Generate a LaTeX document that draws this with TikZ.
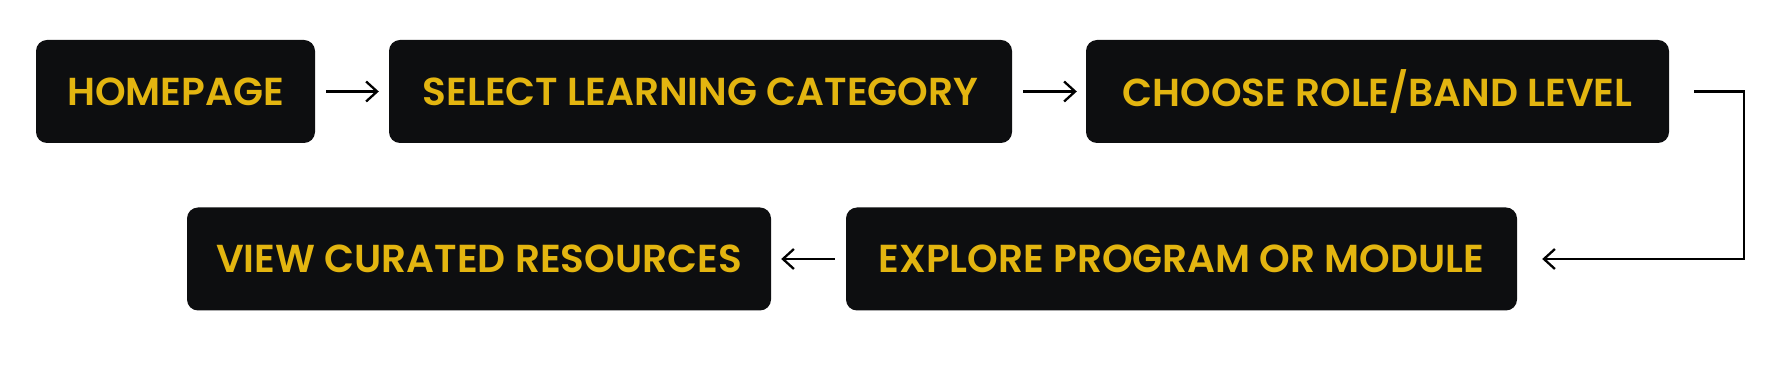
\documentclass[tikz,border=0pt]{standalone}
\usepackage{fontspec}
\newfontfamily\boxfont{Poppins}[UprightFont=* SemiBold]
\definecolor{boxblack}{HTML}{0D0E10}
\definecolor{boxyellow}{HTML}{E3B510}
\usepackage{tikz}
\usetikzlibrary{
  positioning, calc, arrows.meta
}
\tikzset{
	flownode/.style={
			rectangle,
			rounded corners=11pt,
			draw=none,
			fill=boxblack,
			text=boxyellow,
			minimum height=103pt,
			inner sep=0pt,
			font=\boxfont\fontsize{39}{42}\selectfont
		},
	flowarrow/.style={
			draw=black,
			line width=2.3pt,
			-{Straight Barb[length=11pt,width=20pt,line width=2.3pt]}
		}
}
\begin{document}
\begin{tikzpicture}[x=1pt, y=1pt]
				\useasboundingbox (0, 0) rectangle (1786, 369);

				\node[flownode, minimum width=279pt] (home) at (175.5, 277.5) {HOMEPAGE};
				\node[flownode, minimum width=623pt] (select) at (700.5, 277.5) {SELECT LEARNING CATEGORY};
				\node[flownode, minimum width=583pt] (choose) at (1377.5, 277.5) {CHOOSE ROLE/BAND LEVEL};
				\node[flownode, minimum width=671pt] (explore) at (1181.5, 110) {EXPLORE PROGRAM OR MODULE};
				\node[flownode, minimum width=584pt] (view) at (479, 110) {VIEW CURATED RESOURCES};

				\draw[flowarrow, shorten <=11pt, shorten >=10pt] (home) -- (select);
				\draw[flowarrow, shorten <=11pt, shorten >=9pt] (select) -- (choose);

				\draw[flowarrow, shorten <=25pt, shorten >=25pt] (choose.east) -- ++(75, 0) |- (explore.east);
				\draw[flowarrow, shorten <=11pt, shorten >=10pt] (explore) -- (view);
			\end{tikzpicture}
\end{document}
